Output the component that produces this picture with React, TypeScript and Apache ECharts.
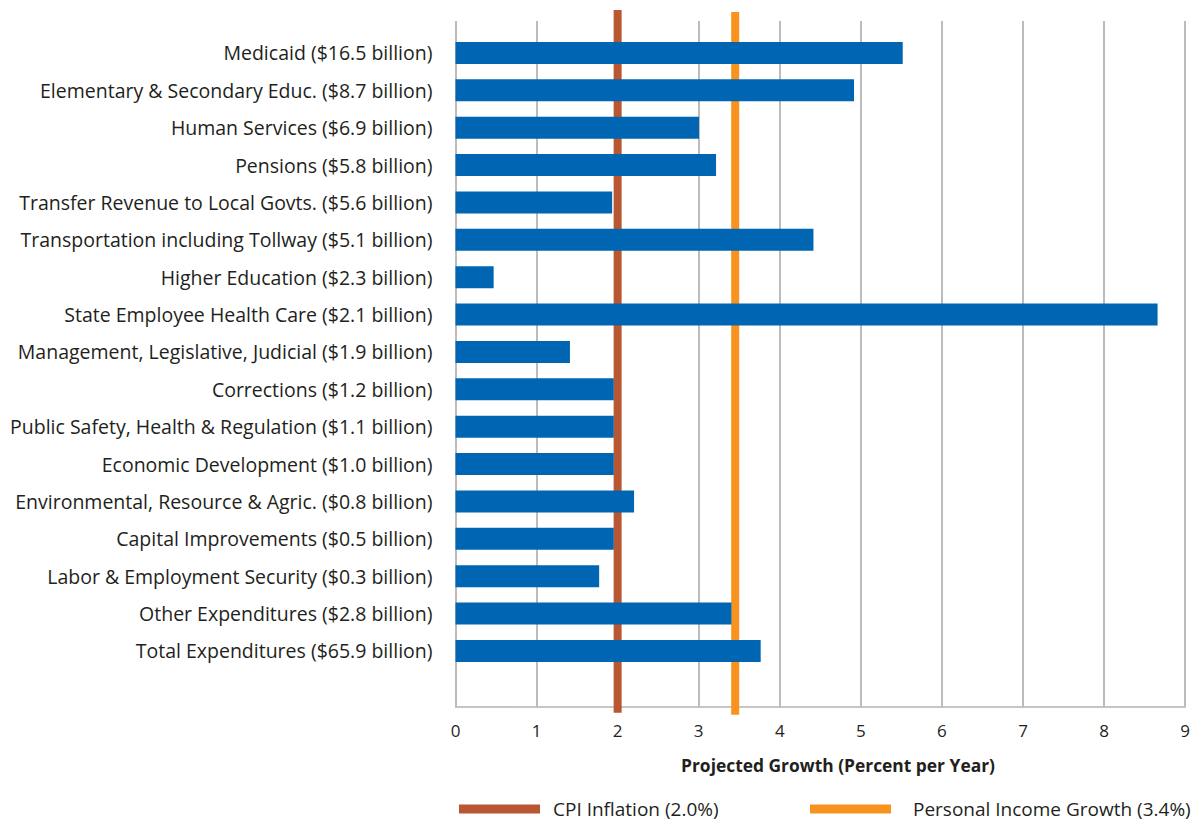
import React, { useEffect, useRef } from "react";
import * as echarts from "echarts";

const categories = [
  "Medicaid ($16.5 billion)",
  "Elementary & Secondary Educ. ($8.7 billion)",
  "Human Services ($6.9 billion)",
  "Pensions ($5.8 billion)",
  "Transfer Revenue to Local Govts. ($5.6 billion)",
  "Transportation including Tollway ($5.1 billion)",
  "Higher Education ($2.3 billion)",
  "State Employee Health Care ($2.1 billion)",
  "Management, Legislative, Judicial ($1.9 billion)",
  "Corrections ($1.2 billion)",
  "Public Safety, Health & Regulation ($1.1 billion)",
  "Economic Development ($1.0 billion)",
  "Environmental, Resource & Agric. ($0.8 billion)",
  "Capital Improvements ($0.5 billion)",
  "Labor & Employment Security ($0.3 billion)",
  "Other Expenditures ($2.8 billion)",
  "Total Expenditures ($65.9 billion)",
];

const growth = [5.51, 4.91, 3.0, 3.21, 1.93, 4.41, 0.47, 8.65, 1.41, 1.95, 1.95, 1.95, 2.2, 1.95, 1.77, 3.4, 3.76];

const cpiName = "CPI Inflation (2.0%)";
const cpiValue = 2.0;
const incomeName = "Personal Income Growth (3.4%)";
const incomeValue = 3.45;

const xTicks = [0, 1, 2, 3, 4, 5, 6, 7, 8, 9];
const axisTitle = "Projected Growth (Percent per Year)";

const FONT = "'Open Sans', 'Noto Sans', sans-serif";
const TEXT = "#231f20";

function refLine(name: string, value: number, color: string, topExt: number, botExt: number) {
  return {
    type: "custom",
    name,
    xAxisIndex: 0,
    yAxisIndex: 0,
    z: 1,
    clip: false,
    itemStyle: { color },
    data: [[value, 0]],
    encode: { x: 0, y: 1 },
    renderItem: (params: any, api: any) => {
      const x = api.coord([api.value(0), 0])[0];
      const cs = params.coordSys;
      return {
        type: "rect",
        shape: { x: x - 4, y: cs.y - topExt, width: 8, height: cs.height + topExt + botExt },
        style: { fill: color },
      };
    },
  };
}

export default function App() {
  const ref = useRef<HTMLDivElement>(null);
  useEffect(() => {
    if (!ref.current) return;
    const chart = echarts.init(ref.current, undefined, { renderer: "svg" });
    const plotLeft = 455.5;
    const plotRight = 7;
    chart.setOption({
      animation: false,
      backgroundColor: "#ffffff",
      textStyle: { fontFamily: FONT, color: TEXT },
      grid: [
        { left: plotLeft, right: plotRight, top: 21, height: 685.7, containLabel: false },
        { left: plotLeft, right: plotRight, top: 34.3, height: 17 * 37.375, containLabel: false },
      ],
      xAxis: [
        {
          type: "value",
          gridIndex: 0,
          min: xTicks[0],
          max: xTicks[xTicks.length - 1],
          interval: 1,
          axisLine: { show: true, lineStyle: { color: "#b3b3b3", width: 1.5 } },
          axisTick: { show: false },
          splitLine: { show: true, lineStyle: { color: "#a6a6a6", width: 1.5 } },
          axisLabel: { fontFamily: FONT, fontSize: 17, color: TEXT, margin: 15 },
        },
        {
          type: "value",
          gridIndex: 1,
          min: xTicks[0],
          max: xTicks[xTicks.length - 1],
          show: false,
        },
      ],
      yAxis: [
        { type: "value", gridIndex: 0, min: 0, max: 1, show: false },
        {
          type: "category",
          gridIndex: 1,
          inverse: true,
          data: categories,
          axisLine: { show: false },
          axisTick: { show: false },
          axisLabel: { fontFamily: FONT, fontSize: 19.5, color: TEXT, margin: 23 },
        },
      ],
      legend: [
        {
          data: [{ name: cpiName, icon: "rect" }],
          left: 459,
          top: 799,
          padding: 0,
          itemWidth: 81,
          itemHeight: 9,
          textStyle: { fontFamily: FONT, fontSize: 19, lineHeight: 20, color: TEXT, padding: [0, 0, 0, 8] },
        },
        {
          data: [{ name: incomeName, icon: "rect" }],
          left: 810,
          top: 799,
          padding: 0,
          itemWidth: 81,
          itemHeight: 9,
          textStyle: { fontFamily: FONT, fontSize: 19, lineHeight: 20, color: TEXT, padding: [0, 0, 0, 17] },
        },
      ],
      graphic: [
        {
          type: "text",
          x: 838,
          y: 765,
          style: {
            text: axisTitle,
            fontFamily: FONT,
            fontWeight: "bold",
            fontSize: 17.4,
            fill: TEXT,
            align: "center",
            verticalAlign: "middle",
          },
        },
      ],
      series: [
        refLine(cpiName, cpiValue, "#b95732", 11, 6),
        refLine(incomeName, incomeValue, "#f7931e", 9, 8),
        {
          type: "bar",
          name: "Growth",
          xAxisIndex: 1,
          yAxisIndex: 1,
          z: 3,
          barWidth: 22,
          itemStyle: { color: "#0066b3" },
          data: growth,
        },
      ],
    });
    return () => chart.dispose();
  }, []);
  return <div ref={ref} style={{ width: 1193, height: 821, position: "absolute", left: 0, top: 0 }} />;
}
